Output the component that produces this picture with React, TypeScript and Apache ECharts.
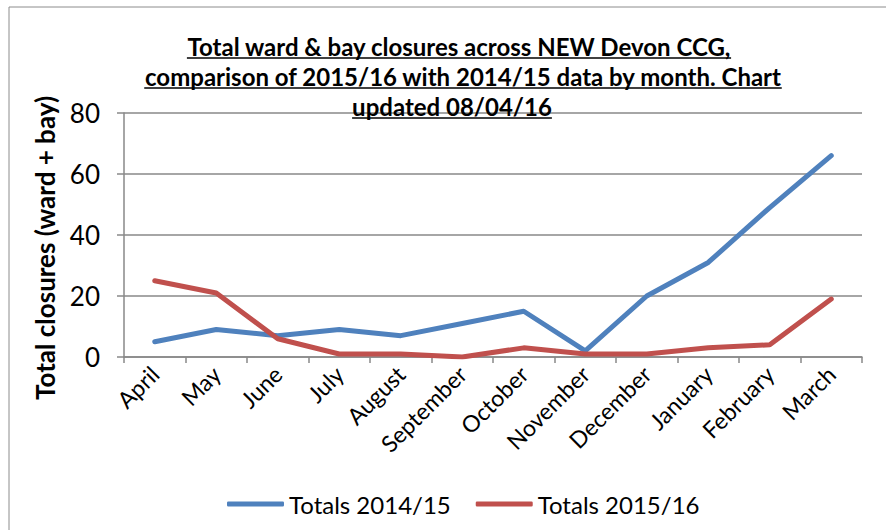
import React, { useEffect, useRef } from "react";
import * as echarts from "echarts";

const months = ["April", "May", "June", "July", "August", "September", "October", "November", "December", "January", "February", "March"];
const totals1415 = [5, 9, 7, 9, 7, 11, 15, 2, 20, 31, 49, 66];
const totals1516 = [25, 21, 6, 1, 1, 0, 3, 1, 1, 3, 4, 19];
const seriesNames = ["Totals 2014/15", "Totals 2015/16"];
const titleLines = [
  "Total ward & bay closures across NEW Devon CCG,",
  "comparison of 2015/16 with 2014/15 data by month. Chart",
  "updated 08/04/16",
];
const yAxisTitle = "Total closures (ward + bay)";

const FONT = "Lato, 'Noto Sans', sans-serif";
const GRID = "#888888";

export default function App() {
  const ref = useRef<HTMLDivElement>(null);
  useEffect(() => {
    document.body.style.margin = "0";
    if (!ref.current) return;
    const chart = echarts.init(ref.current, undefined, { renderer: "svg" });

    const titleSize = 24;
    const titleFont = `bold ${titleSize}px ${FONT}`;
    const cv = document.createElement("canvas").getContext("2d");
    const measure = (t: string) => {
      if (!cv) return t.length * 12;
      cv.font = titleFont;
      return cv.measureText(t).width;
    };
    const centers = [459, 463, 452];
    const baseY = [46, 76, 106];
    const titleGraphics: any[] = [];
    titleLines.forEach((t, i) => {
      const w = measure(t);
      const cx = centers[i];
      titleGraphics.push({
        type: "text",
        x: cx,
        y: baseY[i],
        z: 10,
        style: {
          text: t,
          font: titleFont,
          fill: "#000",
          textAlign: "center",
          textVerticalAlign: "middle",
        },
      });
      titleGraphics.push({
        type: "line",
        z: 10,
        shape: { x1: cx - w / 2, y1: baseY[i] + 12, x2: cx + w / 2, y2: baseY[i] + 12 },
        style: { stroke: "#000", lineWidth: 1.5 },
      });
    });

    chart.setOption({
      animation: false,
      textStyle: { fontFamily: FONT },
      grid: { left: 124, right: 24, top: 113, bottom: 173, containLabel: false },
      legend: {
        left: 222,
        top: 487,
        icon: "roundRect",
        itemWidth: 57,
        itemHeight: 5,
        itemGap: 25,
        data: seriesNames,
        textStyle: { fontSize: 24, color: "#000", fontFamily: FONT },
      },
      xAxis: {
        type: "category",
        data: months,
        boundaryGap: true,
        axisLine: { show: true, lineStyle: { color: GRID, width: 1.5 } },
        axisTick: { show: true, length: 6, lineStyle: { color: GRID, width: 1.5 } },
        axisLabel: { rotate: 45, fontSize: 23, color: "#000", margin: 13, interval: 0, fontFamily: FONT },
      },
      yAxis: {
        type: "value",
        min: 0,
        max: 80,
        interval: 20,
        axisLine: { show: true, lineStyle: { color: GRID, width: 1.5 } },
        axisTick: { show: true, length: 7, lineStyle: { color: GRID, width: 1.5 } },
        splitLine: { show: true, lineStyle: { color: GRID, width: 1.5 } },
        axisLabel: { fontSize: 26, color: "#000", margin: 24, fontFamily: FONT },
      },
      graphic: [
        {
          type: "rect",
          shape: { x: 9, y: 7, width: 1000, height: 1000 },
          style: { fill: "none", stroke: "#8c8c8c", lineWidth: 1 },
          silent: true,
          z: -1,
        },
        {
          type: "text",
          x: 45,
          y: 248,
          rotation: Math.PI / 2,
          style: {
            text: yAxisTitle,
            font: `bold 26px ${FONT}`,
            fill: "#000",
            textAlign: "center",
            textVerticalAlign: "middle",
          },
        },
        ...titleGraphics,
      ],
      series: [
        {
          name: seriesNames[0],
          type: "line",
          data: totals1415,
          symbol: "none",
          lineStyle: { color: "#4F81BD", width: 5, cap: "round", join: "round" },
          itemStyle: { color: "#4F81BD" },
        },
        {
          name: seriesNames[1],
          type: "line",
          data: totals1516,
          symbol: "none",
          lineStyle: { color: "#C0504D", width: 5, cap: "round", join: "round" },
          itemStyle: { color: "#C0504D" },
        },
      ],
    });
    return () => chart.dispose();
  }, []);
  return <div ref={ref} style={{ position: "absolute", left: 0, top: 0, width: 886, height: 530 }} />;
}
